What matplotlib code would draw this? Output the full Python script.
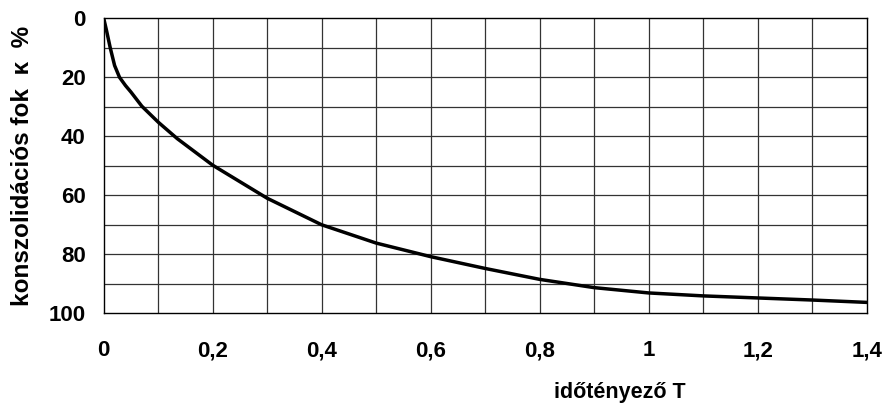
import matplotlib
matplotlib.use("Agg")
import matplotlib.pyplot as plt
import numpy as np

# Data
T_values = [0, 0.005, 0.012, 0.02, 0.029, 0.04, 0.05, 0.07, 0.1, 0.135, 0.2, 0.3, 0.4, 0.5, 0.6, 0.7, 0.8, 0.9, 1.0, 1.1, 1.2, 1.3, 1.4]
U_values = [0, 4, 10, 16, 20, 22.8, 25, 29.8, 35.2, 40.8, 49.8, 61, 70, 76.2, 80.8, 84.8, 88.5, 91.3, 93.1, 94.1, 94.8, 95.5, 96.3]

x_ticks = [0, 0.2, 0.4, 0.6, 0.8, 1.0, 1.2, 1.4]
x_ticklabels = ["0", "0,2", "0,4", "0,6", "0,8", "1", "1,2", "1,4"]
y_ticks = [0, 20, 40, 60, 80, 100]
y_ticklabels = ["0", "20", "40", "60", "80", "100"]
x_label = "időtényező T"
y_label = "konszolidációs fok  κ  %"

plt.rcParams['font.family'] = ['Liberation Sans', 'DejaVu Sans']

fig = plt.figure(figsize=(8.92, 4.05), dpi=100)
ax = fig.add_axes([103.7/892, 1-313.3/405, (866.7-103.7)/892, (313.3-18.3)/405])

ax.set_xlim(0, 1.4)
ax.set_ylim(100, 0)

# grid
for xv in np.arange(0.1, 1.4, 0.1):
    ax.axvline(xv, color='#333333', lw=0.9, zorder=1)
for yv in range(10, 100, 10):
    ax.axhline(yv, color='#333333', lw=0.9, zorder=1)

ax.plot(T_values, U_values, color='black', lw=2.5, zorder=3,
        solid_capstyle='round', solid_joinstyle='round')

ax.set_xticks(x_ticks)
ax.set_xticklabels(x_ticklabels, fontsize=16, fontweight='bold')
ax.set_yticks(y_ticks)
ax.set_yticklabels(y_ticklabels, fontsize=16, fontweight='bold')
ax.tick_params(axis='both', length=0)
ax.tick_params(axis='x', pad=19.5)
ax.tick_params(axis='y', pad=13)

for s in ax.spines.values():
    s.set_color('black')
    s.set_linewidth(1.0)

fig.text(23/892, 1-166/405, y_label, fontsize=17.5, fontweight='bold',
         rotation=90, ha='center', va='center')
fig.text(686/892, 1-398/405, x_label, fontsize=15.5, fontweight='bold', ha='right', va='baseline')

fig.savefig("out.png", dpi=100)
